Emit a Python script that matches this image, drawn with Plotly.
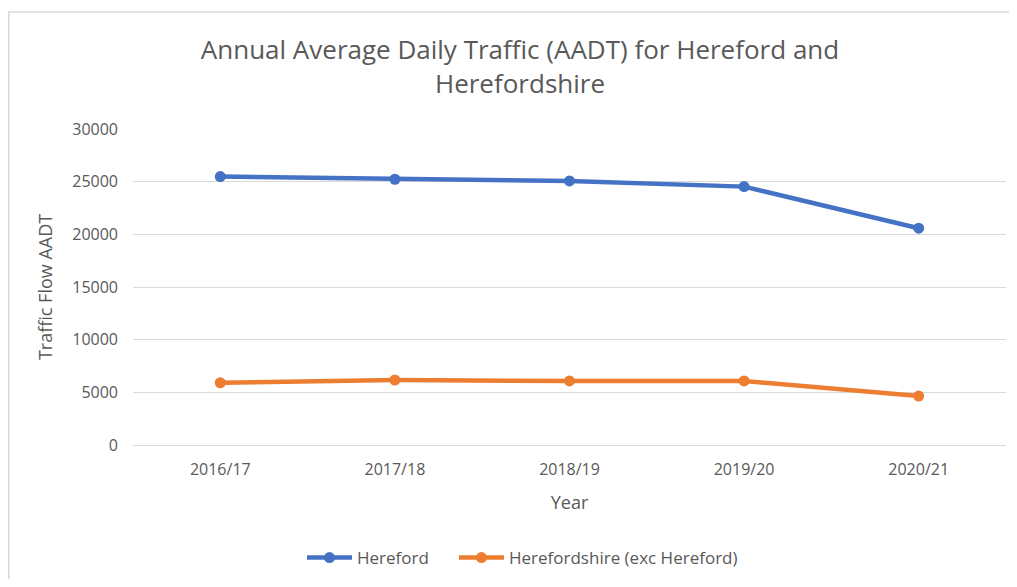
import plotly.graph_objects as go

years = ["2016/17", "2017/18", "2018/19", "2019/20", "2020/21"]
hereford = [25480, 25230, 25070, 24530, 20580]
herefordshire = [5910, 6170, 6080, 6080, 4650]
y_ticks = [0, 5000, 10000, 15000, 20000, 25000, 30000]

FONT = "Open Sans"
GRAY = "#595959"

W, H = 1001, 571
L, T, R, B = 125, 121, 3, 134
PW, PH = W - L - R, H - T - B

fig = go.Figure()
fig.add_trace(go.Scatter(x=years, y=hereford, name="Hereford", mode="lines+markers",
                         line=dict(color="#4472C4", width=4.5),
                         marker=dict(color="#4472C4", size=11), legend="legend"))
fig.add_trace(go.Scatter(x=years, y=herefordshire, name="Herefordshire (exc Hereford)",
                         mode="lines+markers",
                         line=dict(color="#ED7D31", width=4.5),
                         marker=dict(color="#ED7D31", size=11), legend="legend2"))

leg_common = dict(orientation="h", xanchor="left", y=(437 - 550) / PH, yanchor="middle",
                  font=dict(size=17, color=GRAY), itemwidth=45,
                  bgcolor="rgba(0,0,0,0)")

fig.update_layout(
    width=W, height=H,
    margin=dict(l=L, r=R, t=T, b=B),
    paper_bgcolor="white", plot_bgcolor="white",
    font=dict(family=FONT, color=GRAY, size=16),
    title=dict(text="Annual Average Daily Traffic (AADT) for Hereford and<br>Herefordshire",
               x=512 / W, xanchor="center", y=1 - 51 / H, yanchor="top",
               font=dict(family=FONT, size=26, color=GRAY)),
    showlegend=True,
    legend=dict(x=(294 - L) / PW, **leg_common),
    legend2=dict(x=(446 - L) / PW, **leg_common),
    xaxis=dict(showgrid=False, showline=True, linecolor="#D9D9D9", linewidth=1,
               ticks="", ticklabelstandoff=10, tickfont=dict(size=16, color=GRAY),
               title=dict(text="Year", font=dict(size=18, color=GRAY), standoff=17),
               range=[-0.5, 4.5], fixedrange=True),
    yaxis=dict(range=[0, 30000], tickvals=y_ticks, ticktext=[str(v) for v in y_ticks],
               showgrid=True, gridcolor="#D9D9D9", gridwidth=1, zeroline=False,
               showline=False, ticks="", ticklabelstandoff=14,
               tickfont=dict(size=16, color=GRAY),
               title=dict(text="Traffic Flow AADT", font=dict(size=18, color=GRAY), standoff=14)),
    shapes=[dict(type="rect", xref="paper", yref="paper",
                 x0=(0.75 - L) / PW, x1=1.3, y0=-0.8, y1=(437 - 4) / PH,
                 line=dict(color="#D9D9D9", width=1.5), fillcolor="rgba(0,0,0,0)",
                 layer="below")],
)

fig.write_html("out.html")
